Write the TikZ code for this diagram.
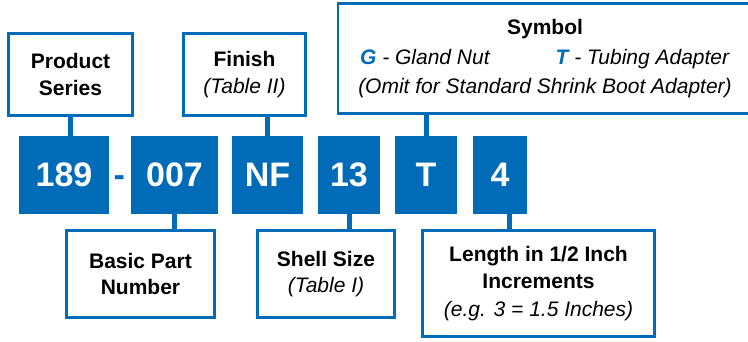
\documentclass[tikz,border=0pt]{standalone}
\usepackage{fontspec}
\setmainfont{Liberation Sans}
\usepackage{tikz}
\usetikzlibrary{positioning, calc}
\usepackage{xcolor}
\definecolor{partblue}{RGB}{0,108,183}

\begin{document}
\begin{tikzpicture}[x=1pt, y=-1pt,
    codebox/.style={fill=partblue, text=white, inner sep=0pt, minimum height=78,
      font=\fontsize{34}{40}\selectfont\bfseries},
    labelbox/.style={draw=partblue, line width=2.8pt, fill=white, inner sep=0pt,
      align=center, font=\fontsize{21}{26.5}\selectfont},
    conn/.style={partblue, line width=5pt}]
        \useasboundingbox (0,0) rectangle (748,341);
        % Code boxes
        \foreach \n/\x/\w/\t in {c189/64/90/189, c007/174.5/87/007, cNF/267.5/71/NF,
                                 c13/349/62/13, cT/426/62/T, c4/500/54/4}
          \node[codebox, minimum width=\w] (\n) at (\x,175) {\t};
        \node[font=\fontsize{34}{40}\selectfont\bfseries, text=partblue, inner sep=0pt,
          anchor=base] (dash) at ($(c189.base)!0.5!(c007.base)$) {-};
        % Label boxes above
        \node[labelbox, minimum width=124.2, minimum height=82.2] (ser) at (70.5,74.5)
          {\textbf{Product}\\\textbf{Series}};
        \node[labelbox, minimum width=122.2, minimum height=82.2] (fin) at (244.5,74.5)
          {\textbf{Finish}\\\textit{(Table II)}};
        \node[labelbox, minimum width=414, minimum height=110.2] (sym) at (545,58.5)
          {\textbf{Symbol}\\[4pt]
           \textit{\textcolor{partblue}{\textbf{G}} - Gland Nut\hspace{66pt}\textcolor{partblue}{\textbf{T}} - Tubing Adapter}\\[2pt]
           \textit{(Omit for Standard Shrink Boot Adapter)}};
        % Label boxes below
        \node[labelbox, minimum width=148.2, minimum height=87.2] (bas) at (140.5,274)
          {\textbf{Basic Part}\\\textbf{Number}};
        \node[labelbox, minimum width=137.2, minimum height=87.2] (shl) at (326,274)
          {\textbf{Shell Size}\\\textit{(Table I)}};
        \node[labelbox, minimum width=232.2, minimum height=106.2] (len) at (538.5,283.5)
          {\textbf{Length in 1/2 Inch}\\[1pt]\textbf{Increments}\\[1pt]\textit{(e.g. 3 = 1.5 Inches)}};
        % Connectors
        \draw[conn] (ser.south) -- (ser.south |- c189.north);
        \draw[conn] (cNF.north) -- (cNF.north |- fin.south);
        \draw[conn] (cT.north) -- (cT.north |- sym.south);
        \draw[conn] (c007.south) -- (c007.south |- bas.north);
        \draw[conn] (c13.south) -- (c13.south |- shl.north);
        \draw[conn] ([xshift=9pt]c4.south) -- ([xshift=9pt]c4.south |- len.north);
      \end{tikzpicture}
\end{document}
